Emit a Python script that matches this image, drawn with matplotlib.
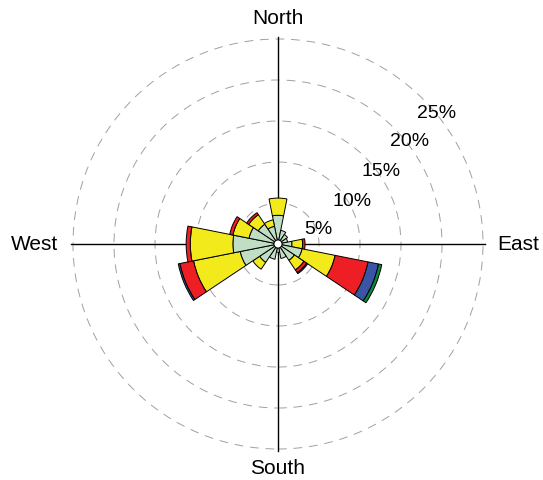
import numpy as np
import matplotlib
matplotlib.use("Agg")
import matplotlib.pyplot as plt
from matplotlib.patches import Wedge, Circle

plt.rcParams['font.family'] = ['Liberation Sans', 'DejaVu Sans']

# direcciones (rumbo, grados desde el norte, sentido horario)
direcciones = ["N", "NNE", "NE", "ENE", "E", "ESE", "SE", "SSE",
               "S", "SSW", "SW", "WSW", "W", "WNW", "NW", "NNW"]
rumbos = np.arange(16) * 22.5

# frecuencia (%) por clase de velocidad y por direccion
clase1 = [3.5, 1.7, 1.4, 1.2, 1.7, 3.0, 2.4, 1.8, 1.0, 1.9, 2.7, 4.7, 5.5, 3.6, 2.9, 2.2]
clase2 = [2.1, 0, 0, 0, 1.3, 4.1, 1.4, 0, 0, 0, 1.0, 5.8, 5.2, 2.0, 1.4, 0.8]
clase3 = [0, 0, 0, 0, 0.3, 4.1, 0.4, 0, 0, 0, 0, 1.7, 0.5, 0.4, 0.3, 0]
clase4 = [0, 0, 0, 0, 0, 1.3, 0.15, 0, 0, 0, 0, 0.2, 0, 0, 0, 0]
clase5 = [0, 0, 0, 0, 0, 0.4, 0, 0, 0, 0, 0, 0, 0, 0, 0, 0]
colores = ["#bfdec4", "#f2ea1a", "#ed1f24", "#3a55a6", "#0b8a3e"]

anillos = [5, 10, 15, 20, 25]
etiquetas_anillos = ["5%", "10%", "15%", "20%", "25%"]

px = 8.2  # pixeles por 1%
cx, cy = 278, 245
W, H = 543, 481

fig = plt.figure(figsize=(W / 100, H / 100), dpi=100)
ax = fig.add_axes([0, 0, 1, 1])
ax.set_xlim(-cx / px, (W - cx) / px)
ax.set_ylim(-(H - cy) / px, cy / px)
ax.set_aspect("equal")
ax.axis("off")

# circulos de referencia
for r in anillos:
    ax.add_patch(Circle((0, 0), r, fill=False, ls=(0, (9, 7)), lw=0.7,
                        ec="#a0a0a0", zorder=1))

# ejes cardinales
lim = 25.25
ax.plot([-lim, lim], [0, 0], color="black", lw=1.0, zorder=2)
ax.plot([0, 0], [-lim, lim], color="black", lw=1.0, zorder=2)

# sectores apilados
clases = np.array([clase1, clase2, clase3, clase4, clase5])
acum = np.cumsum(clases, axis=0)
for i, rumbo in enumerate(rumbos):
    ang = 90 - rumbo
    base = 0
    for k in range(len(clases)):
        tope = acum[k, i]
        if tope - base > 1e-6:
            ax.add_patch(Wedge((0, 0), tope, ang - 11.25, ang + 11.25,
                               width=tope - base, fc=colores[k], ec="black",
                               lw=0.7, zorder=3))
        base = tope

ax.add_patch(Circle((0, 0), 0.5, fc="white", ec="black", lw=0.8, zorder=4))

# etiquetas de porcentaje
pos_etq = [(318, 230), (352, 201), (381, 172), (410, 142), (437, 113)]
for (x, y), t in zip(pos_etq, etiquetas_anillos):
    ax.text((x - cx) / px, (cy - y) / px, t, ha="center", va="center",
            fontsize=14, zorder=5)

# puntos cardinales
ax.text(0, (cy - 18) / px, "North", ha="center", va="center", fontsize=15)
ax.text(0, (cy - 469) / px, "South", ha="center", va="center", fontsize=15)
ax.text((35 - cx) / px, 0, "West", ha="center", va="center", fontsize=15)
ax.text((518 - cx) / px, 0, "East", ha="center", va="center", fontsize=15)

fig.savefig("out.png", dpi=100)
